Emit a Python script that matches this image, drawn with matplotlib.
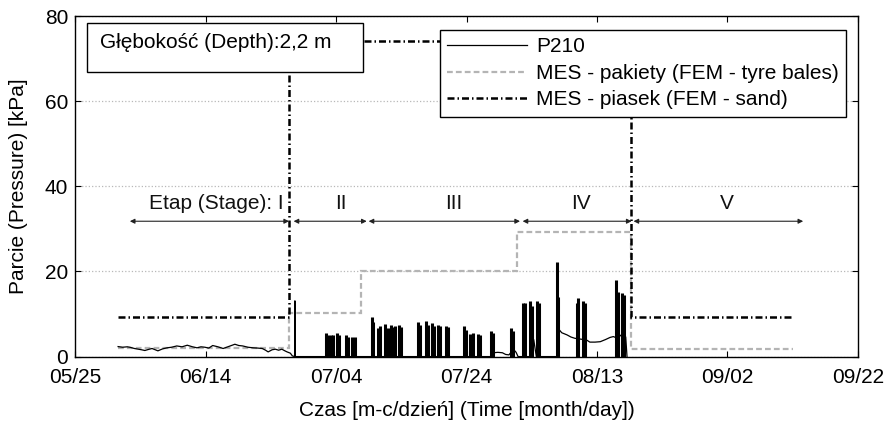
import matplotlib
matplotlib.use('Agg')
import matplotlib.pyplot as plt
import matplotlib.patches as mpatches

# ─── Dane (czas = dni od 05/25) ─────────────────────────────────────────────

tick_days = [0, 20, 40, 60, 80, 100, 120]
tick_labels = ['05/25', '06/14', '07/04', '07/24', '08/13', '09/02', '09/22']
y_ticks = [0, 20, 40, 60, 80]

# P210 - przebieg tła (wolnozmienny)
p210_t = [6.6, 7.3, 8.0, 8.4, 9.1, 9.7, 10.2, 10.7, 11.3, 11.8, 12.3, 12.7, 13.4,
          14.1, 14.8, 15.6, 16.4, 17.2, 18.0, 18.7, 19.3, 19.9, 20.5, 21.1, 21.9,
          22.7, 23.6, 24.5, 25.1, 25.7, 26.5, 27.3, 28.0, 28.7, 29.2, 29.6, 30.2,
          30.7, 31.2, 31.7, 32.1, 32.5, 33.0, 33.3,
          33.65, 33.7, 33.75,
          63.8, 64.1, 64.8, 65.5, 66.0, 66.5, 67.2, 67.6, 67.9,
          69.9, 70.3, 70.7,
          73.9, 74.1, 74.6, 75.4, 76.0, 76.6, 77.5, 78.4, 78.9, 79.7, 80.5,
          81.3, 82.0, 82.5, 83.0, 83.5, 84.0, 84.4, 84.6]
p210_p = [2.35, 2.2, 2.3, 2.2, 1.9, 1.74, 1.6, 1.43, 1.7, 1.9, 1.6, 1.35, 1.8,
          2.06, 2.2, 2.5, 2.3, 2.67, 2.3, 2.06, 2.3, 2.2, 2.0, 2.6, 2.3,
          1.9, 2.4, 2.9, 2.6, 2.5, 2.2, 2.06, 2.0, 1.9, 1.5, 1.1, 1.6,
          1.74, 1.5, 1.74, 1.4, 1.1, 0.8, 0.17,
          0.0, 13.1, 0.0,
          0.0, 0.9, 1.0, 0.9, 0.5, 0.4, 1.7, 1.0, 0.0,
          0.0, 4.0, 0.0,
          0.0, 6.5, 5.6, 5.1, 4.6, 4.3, 4.1, 3.9, 3.4, 3.4, 3.5,
          4.0, 4.5, 4.7, 4.4, 4.8, 5.5, 4.6, 0.0]

# P210 - piki obciążeń (dzień, kPa)
spike_t = [38.5, 38.8, 39.2, 39.5, 40.2, 40.5, 41.5, 41.8, 42.5, 42.9,
           45.5, 45.7, 46.5, 46.7, 47.5, 47.9, 48.5, 48.7, 49.0, 49.7, 49.9,
           52.6, 52.9, 53.8, 54.1, 54.7, 55.0, 55.7, 56.0, 56.8, 57.1,
           59.6, 59.9, 60.6, 61.0, 61.8, 62.1, 63.8, 64.0, 66.8, 67.1,
           68.7, 69.0, 69.8, 70.1, 70.8, 71.1,
           73.9, 74.0, 76.9, 77.1, 77.9, 78.2, 82.9, 83.2, 83.9, 84.2]
spike_p = [5.5, 5.1, 5.1, 5.0, 5.5, 5.1, 5.1, 4.7, 4.7, 4.5,
           9.3, 8.2, 6.7, 7.2, 7.7, 6.7, 7.5, 7.0, 7.3, 7.5, 7.0,
           8.2, 7.5, 8.4, 7.5, 7.9, 7.3, 7.5, 7.3, 7.3, 7.0,
           7.3, 6.3, 5.3, 5.5, 5.3, 5.1, 6.1, 5.5, 6.7, 6.0,
           12.6, 12.6, 13.0, 11.8, 13.0, 12.6,
           22.2, 14.1, 12.6, 13.7, 13.0, 12.6, 17.9, 15.1, 15.0, 14.5]

# MES - pakiety (schodki: granice, wartości)
tyre_edges = [6.6, 32.8, 43.8, 67.8, 85.2, 110.0]
tyre_p = [2.0, 10.2, 20.2, 29.3, 1.8]

# MES - piasek
sand_edges = [6.6, 32.8, 85.2, 110.0]
sand_p = [9.4, 74.2, 9.4]

# Etapy
stage_names = ['Etap (Stage): I', 'II', 'III', 'IV', 'V']
stage_start = [8.4, 33.5, 45.0, 68.6, 85.6]
stage_end = [32.8, 44.7, 68.2, 85.3, 111.6]
stage_label_x = [31.9, 40.7, 58.0, 77.6, 99.9]
stage_arrow_y = 31.8
stage_label_y = 36.0

# ─── Styl ───────────────────────────────────────────────────────────────────

plt.rcParams.update({
    'font.family': ['Liberation Sans', 'DejaVu Sans'],
    'font.size': 15,
    'axes.linewidth': 1.0,
    'xtick.direction': 'in',
    'ytick.direction': 'in',
    'xtick.major.size': 4,
    'ytick.major.size': 4,
})

fig = plt.figure(figsize=(8.88, 4.23), dpi=100)
ax = fig.add_axes([0.0845, 0.157, 0.8817, 0.805])

ax.plot(p210_t, p210_p, color='black', linewidth=0.9, label='P210', zorder=3)
ax.vlines(spike_t, 0, spike_p, color='black', linewidth=2.2, zorder=3)

ax.stairs(tyre_p, tyre_edges, baseline=None, color='#b4b4b4', linewidth=1.6,
          linestyle=(0, (2.6, 1.4)), label='MES - pakiety (FEM - tyre bales)', zorder=2)
ax.stairs(sand_p, sand_edges, baseline=None, color='black', linewidth=1.8,
          linestyle=(0, (2.8, 1.2, 0.6, 1.2)), label='MES - piasek (FEM - sand)', zorder=4)

# strzałki etapów
for name, s, e, lx in zip(stage_names, stage_start, stage_end, stage_label_x):
    ax.annotate('', xy=(e, stage_arrow_y), xytext=(s, stage_arrow_y),
                arrowprops=dict(arrowstyle='<|-|>', color='#222222', lw=0.8,
                                mutation_scale=7, shrinkA=0, shrinkB=0), zorder=3)
    ha = 'right' if name.startswith('Etap') else 'center'
    ax.text(lx, stage_label_y, name, ha=ha, va='center', fontsize=15, color='#111111')

ax.set_xlim(tick_days[0], tick_days[-1])
ax.set_ylim(y_ticks[0], y_ticks[-1])
ax.set_xticks(tick_days)
ax.set_xticklabels(tick_labels)
ax.set_yticks(y_ticks)
ax.tick_params(axis='x', top=True, pad=8)
ax.tick_params(axis='y', right=True, pad=5)
ax.yaxis.grid(True, linestyle=':', color='#b8b8b8', linewidth=0.9)
ax.set_axisbelow(True)

ax.set_xlabel('Czas [m-c/dzień] (Time [month/day])', labelpad=10)
ax.set_ylabel('Parcie (Pressure) [kPa]', labelpad=12)

# ramka z głębokością
box = mpatches.Rectangle((0.0153, 0.8357), 0.3525, 0.1437, transform=ax.transAxes,
                         facecolor='white', edgecolor='black', linewidth=1.0, zorder=6)
ax.add_patch(box)
ax.text(0.032, 0.9237, 'Głębokość (Depth):2,2 m', transform=ax.transAxes,
        ha='left', va='center', fontsize=15, zorder=7)

leg = ax.legend(loc='upper right', bbox_to_anchor=(0.9847, 0.9589), borderaxespad=0,
                fancybox=False, framealpha=1, edgecolor='black', fontsize=15,
                handlelength=3.8, labelspacing=0.36, borderpad=0.35, handletextpad=0.45)
leg.get_frame().set_linewidth(1.0)
leg.set_zorder(8)

fig.savefig('out.png', dpi=100)
